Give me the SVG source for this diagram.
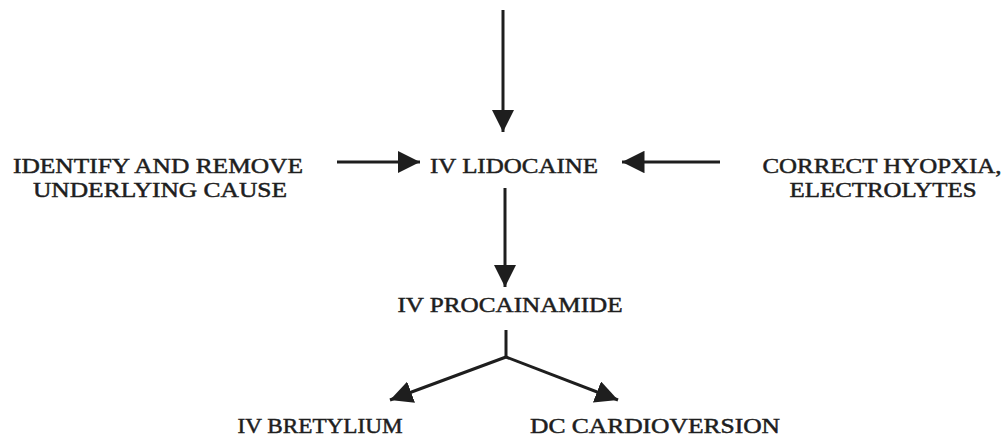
<svg xmlns="http://www.w3.org/2000/svg" width="1008" height="437" viewBox="0 0 1008 437">
<style>
text{font-family:"Liberation Serif","Times New Roman",serif;font-size:22px;fill:#1e1e1e;text-anchor:middle;stroke:#1e1e1e;stroke-width:0.5;lengthAdjust:spacingAndGlyphs}
.c{stroke:#1e1e1e;stroke-width:3;fill:none}
</style>
<defs>
<marker id="ah" viewBox="0 0 10 10" refX="10" refY="5" markerWidth="7.5" markerHeight="7.5" markerUnits="strokeWidth" orient="auto">
<path d="M0,0 L10,5 L0,10 z" fill="#1e1e1e"/>
</marker>
</defs>
<rect width="1008" height="437" fill="#fff"/>
<g id="connectors">
<line class="c" x1="503" y1="10" x2="503" y2="132" marker-end="url(#ah)"/>
<line class="c" x1="337" y1="162" x2="420" y2="162" marker-end="url(#ah)"/>
<line class="c" x1="720" y1="162" x2="622" y2="162" marker-end="url(#ah)"/>
<line class="c" x1="505" y1="188" x2="505" y2="287" marker-end="url(#ah)"/>
<polyline class="c" points="506,330 506,357"/>
<line class="c" x1="506" y1="357" x2="390" y2="400" marker-end="url(#ah)"/>
<line class="c" x1="506" y1="357" x2="618" y2="400" marker-end="url(#ah)"/>
</g>
<g id="lidocaine"><text x="514" y="173" textLength="168" lengthAdjust="spacingAndGlyphs">IV LIDOCAINE</text></g>
<g id="identify"><text x="158" y="173" textLength="290" lengthAdjust="spacingAndGlyphs">IDENTIFY AND REMOVE</text><text x="160" y="197" textLength="254" lengthAdjust="spacingAndGlyphs">UNDERLYING CAUSE</text></g>
<g id="correct"><text x="882" y="173" textLength="239" lengthAdjust="spacingAndGlyphs">CORRECT HYOPXIA,</text><text x="883" y="197" textLength="187" lengthAdjust="spacingAndGlyphs">ELECTROLYTES</text></g>
<g id="procainamide"><text x="510" y="312" textLength="225" lengthAdjust="spacingAndGlyphs">IV PROCAINAMIDE</text></g>
<g id="bretylium"><text x="320" y="433" textLength="165" lengthAdjust="spacingAndGlyphs">IV BRETYLIUM</text></g>
<g id="cardioversion"><text x="655" y="433" textLength="250" lengthAdjust="spacingAndGlyphs">DC CARDIOVERSION</text></g>
</svg>
